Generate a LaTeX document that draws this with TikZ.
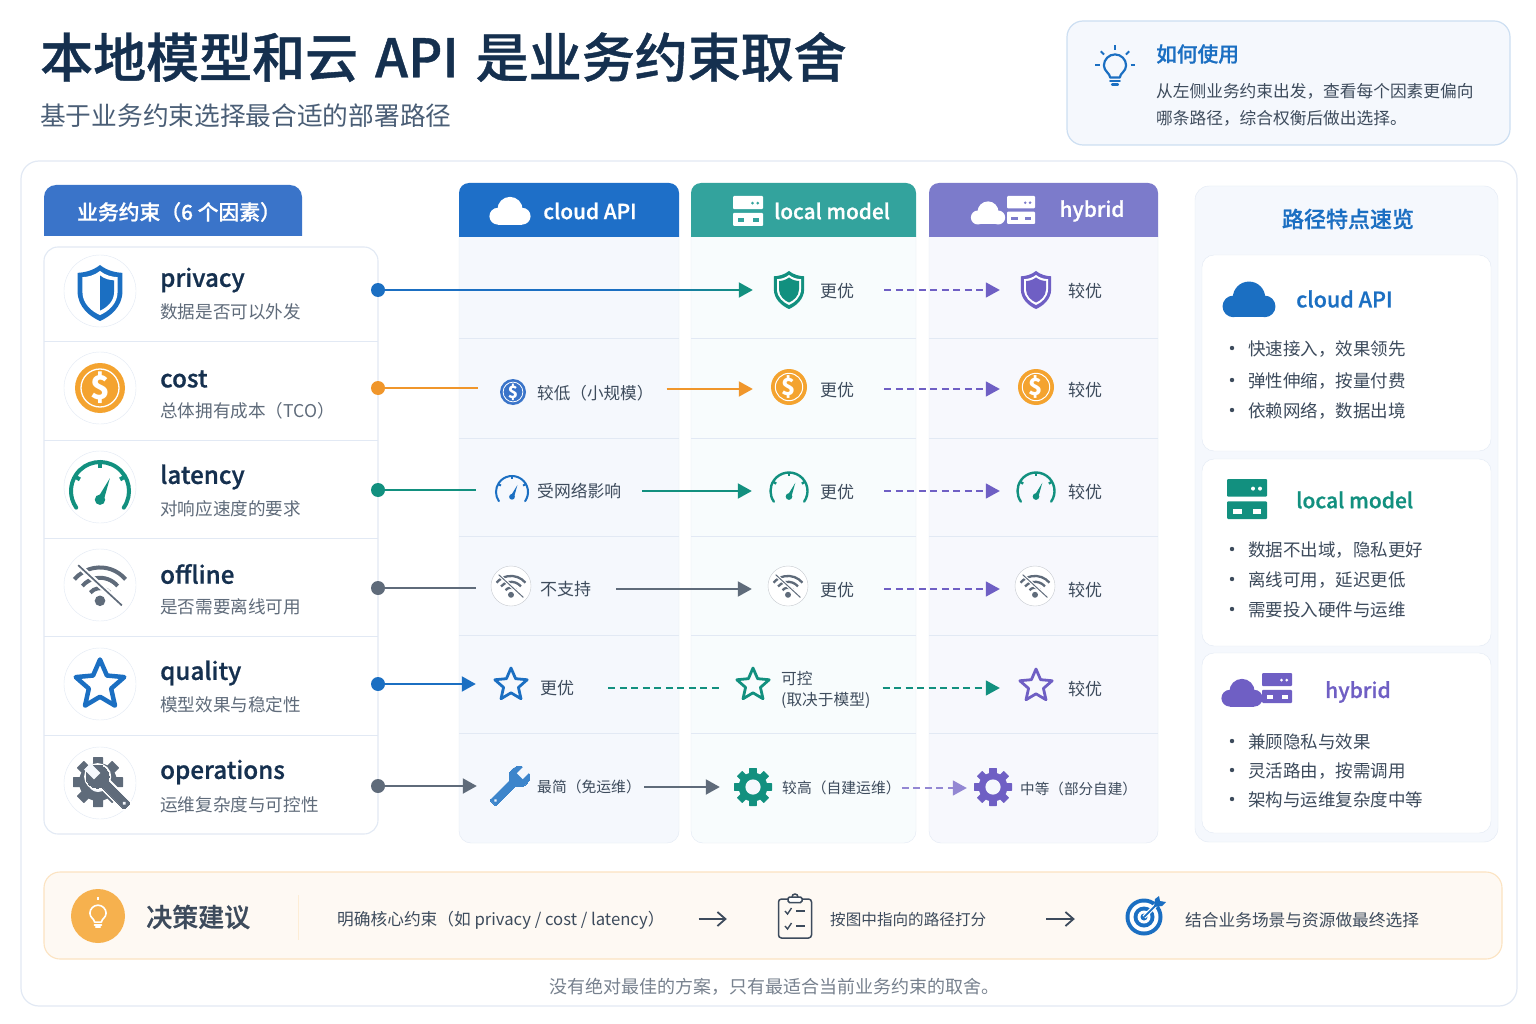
\documentclass[tikz,border=0pt]{standalone}
\usepackage{fontspec}
\setmainfont{Noto Sans CJK SC}
\newfontfamily\medfont{Noto Sans CJK SC Medium}[FakeBold=0.8]
\usetikzlibrary{arrows.meta,positioning,calc}
\definecolor{umink}{HTML}{15304F}
\definecolor{umsub}{HTML}{4A5E76}
\definecolor{umtext}{HTML}{3D4B5C}
\definecolor{umgray}{HTML}{5F6B7A}
\definecolor{umblue}{HTML}{1B6FC2}
\definecolor{umteal}{HTML}{12907F}
\definecolor{umpurple}{HTML}{6F5FC4}
\definecolor{umorange}{HTML}{F0962B}
\definecolor{umcoin}{HTML}{F4A32F}
\definecolor{headleft}{HTML}{3A74C9}
\definecolor{headcloud}{HTML}{1E6FC8}
\definecolor{headlocal}{HTML}{33A39D}
\definecolor{headhybrid}{HTML}{7C7BCB}
\definecolor{colcloud}{HTML}{F5F8FD}
\definecolor{collocal}{HTML}{F8FCFD}
\definecolor{colhybrid}{HTML}{F7F8FD}
\definecolor{umline}{HTML}{E2E9F4}
\newcommand{\fsz}[1]{\fontsize{#1}{#1}\selectfont}

\tikzset{
  factorname/.style={anchor=west,inner sep=0pt,yshift=-2pt,font=\medfont\fsz{24.2},text=umink},
  factorsub/.style={anchor=west,inner sep=0pt,yshift=-1pt,font=\fsz{17.6},text=umgray},
  celltext/.style={anchor=west,inner sep=0pt,yshift=-1pt,font=\fsz{17},text=umtext},
  bullettext/.style={anchor=west,inner sep=0pt,yshift=-1pt,font=\fsz{17.5},text=umtext},
  headtext/.style={inner sep=0pt,font=\medfont\fsz{20.8},text=white},
  steptext/.style={anchor=west,inner sep=0pt,yshift=-1pt,font=\fsz{16.7},text=umtext},
  iconslot/.style={circle,inner sep=0pt,minimum size=36pt},
  iconring/.style={circle,draw=umline,fill=white,inner sep=0pt,minimum size=72pt},
  dotmark/.style={circle,inner sep=0pt,minimum size=14pt},
  link/.style={line width=2pt},
  arrowlink/.style={line width=2pt,-{Triangle[length=14pt,width=15pt]}},
  dashlink/.style={line width=1.7pt,dash pattern=on 7pt off 4.5pt,-{Triangle[length=14pt,width=15pt]}},
  % icons, local y axis points up
  shieldpath/.pic={\tikzset{y=1pt}
    \fill[#1] (0,10) .. controls (2.5,8) and (5.5,7.3) .. (8,7.2) -- (8,0.5) .. controls (8,-5) and (3.5,-8.5) .. (0,-10) .. controls (-3.5,-8.5) and (-8,-5) .. (-8,0.5) -- (-8,7.2) .. controls (-5.5,7.3) and (-2.5,8) .. (0,10) -- cycle;
  },
  coinicon/.pic={\tikzset{y=1pt}
    \fill[#1] (0,0) circle (10);
    \draw[white] (0,0) circle (7.6);
    \node[transform shape,inner sep=0pt,font=\bfseries\fsz{13},text=white] (-sign) at (0,0) {\$};
  },
  gaugeicon/.pic={\tikzset{y=1pt}
    \draw[#1,line cap=round] (-35:10) arc (-35:215:10);
    \foreach \a in {30,90,150} \draw[#1] (\a:10) -- (\a:8);
    \fill[#1] (-1.5,-3.6) -- (3.4,4.4) -- (1.5,-2.4) -- cycle;
    \fill[#1] (0,-3) circle (1.8);
  },
  wifiicon/.pic={\tikzset{y=1pt}
    \foreach \r in {5.5,10,14.5} \draw[#1] ($(0,-6)+(40:\r)$) arc (40:140:\r);
    \fill[#1] (0,-6) circle (2.3);
    \draw[white,line width=1.2\pgflinewidth] (-9.5,9.5) -- (9.5,-8);
    \draw[#1,line width=0.65\pgflinewidth] (-9.5,9.5) -- (9.5,-8);
  },
  staricon/.pic={\tikzset{y=1pt}
    \draw[#1,line join=round] (90:10) -- (126:4.6) -- (162:10) -- (198:4.6) -- (234:10) -- (270:4.6) -- (306:10) -- (342:4.6) -- (18:10) -- (54:4.6) -- cycle;
  },
  gearicon/.pic={\tikzset{y=1pt}
    \fill[#1] (0,0) circle (7.6);
    \foreach \a in {0,45,...,315} \fill[#1,rotate=\a,rounded corners=0.5pt] (-2,6.5) rectangle (2,10);
    \fill[colcloud] (0,0) circle (4);
  },
  wrenchicon/.pic={\tikzset{y=1pt}
    \begin{scope}[rotate=-45]
    \filldraw[#1,rounded corners=1.5pt] (-1.9,-12) rectangle (1.9,4);
    \filldraw[#1] (0,5.5) circle (4.8);
    \fill[colcloud] (-1.9,5.8) rectangle (1.9,11.5);
    \fill[colcloud] (0,-10.2) circle (0.8);
    \end{scope}
  },
  cloudicon/.pic={\tikzset{y=1pt}
    \fill[#1] (-5.8,-2) circle (4);
    \fill[#1] (0,1.2) circle (6);
    \fill[#1] (5.8,-2) circle (4);
    \fill[#1] (-5.8,-6) rectangle (5.8,-1);
  },
  pics/servericon/.style 2 args={code={\tikzset{y=1pt}
    \fill[#1,rounded corners=1pt] (-10,1.2) rectangle (10,10);
    \fill[#1,rounded corners=1pt] (-10,-10) rectangle (10,-1.2);
    \fill[#2] (3,5.2) circle (1);
    \fill[#2] (6.5,5.2) circle (1);
    \fill[#2] (-7,-7.5) rectangle (-2.5,-4.8);
    \fill[#2] (3,-7.5) rectangle (7,-4.8);
  }},
  bulbicon/.pic={\tikzset{y=1pt}
    \draw[#1,line join=round] (-2.6,-3) .. controls (-2.6,-0.8) and (-6,0.4) .. (-6,3.5) arc (180:0:6) .. controls (6,0.4) and (2.6,-0.8) .. (2.6,-3) -- cycle;
    \draw[#1,line cap=round] (-2.6,-5) -- (2.6,-5);
    \draw[#1,line cap=round] (-1.6,-6.8) -- (1.6,-6.8);
  },
  targeticon/.pic={\tikzset{y=1pt}
    \fill[#1] (0,0) circle (18.5);
    \fill[white] (0,0) circle (14.5);
    \fill[#1] (0,0) circle (10.5);
    \fill[white] (0,0) circle (6.5);
    \fill[#1] (0,0) circle (3.5);
    \draw[white,line width=4pt] (0,0) -- (13,13);
    \draw[#1,line width=1.8pt] (0,0) -- (13,13);
    \fill[#1] (10,10) -- (11,18) -- (15,21) -- (16,16) -- (22,15) -- (18,11) -- cycle;
  },
  clipicon/.pic={\tikzset{y=1pt}
    \draw[#1,line width=1.5pt,rounded corners=3pt] (-16.5,-21) rectangle (16.5,18);
    \filldraw[fill=white,draw=#1,line width=1.5pt,rounded corners=1.5pt] (-7,14.5) rectangle (7,20);
    \draw[#1,line width=1.5pt] (-3,20) arc (180:0:3);
    \foreach \y in {6,-9} {
      \draw[#1,line width=1.4pt] (-10,\y) -- (-7.5,\y-3) -- (-3.5,\y+3);
      \draw[#1,line width=1.4pt] (1,\y) -- (10,\y);
    }
  },
}

\begin{document}
\begin{tikzpicture}[x=1pt,y=-1pt]
\useasboundingbox (0,0) rectangle (1536,1024);
\fill[white] (0,0) rectangle (1536,1024);

% Title block
\node[anchor=west,inner sep=0pt,font=\medfont\fsz{53},text=umink] (title) at (40,57) {本地模型和云\hspace{5pt} API\hspace{5pt} 是业务约束取舍};
\node[anchor=west,inner sep=0pt,font=\fsz{25.7},text=umsub] (subtitle) at (40,116) {基于业务约束选择最合适的部署路径};

% How to use
\draw[fill=colcloud,draw=umblue!22,line width=1.2pt,rounded corners=16pt] (1067,21) rectangle (1510,145);
\pic[scale=1.85,line width=2.2pt] at (1115,72) {bulbicon=umblue};
\foreach \a in {0,45,90,135,180} \draw[umblue,line width=2pt] ($(1115,65.5)+(\a:15.5 and -15.5)$) -- ($(1115,65.5)+(\a:20 and -20)$);
\node[anchor=west,inner sep=0pt,font=\medfont\fsz{20.7},text=umblue] (howto) at (1156,54) {如何使用};
\node[anchor=west,inner sep=0pt,font=\fsz{16.7},text=umtext] (howtoa) at (1156,91) {从左侧业务约束出发，查看每个因素更偏向};
\node[anchor=west,inner sep=0pt,font=\fsz{16.7},text=umtext] (howtob) at (1156,118) {哪条路径，综合权衡后做出选择。};

% Outer panel
\draw[fill=white,draw=umline,line width=1.2pt,rounded corners=18pt] (21,161) rectangle (1517,1006);

% Factor column
\fill[headleft,rounded corners=12pt] (44,236) -- (44,185) -- (302,185) -- (302,236);
\node[inner sep=0pt,font=\medfont\fsz{20.8},text=white] (factorhead) at (179,212) {业务约束（6 个因素）};
\draw[fill=white,draw=umline,line width=1.1pt,rounded corners=14pt] (44,247) rectangle (378,834);
\foreach \y in {341,440,538,636,735} \draw[umline] (44,\y) -- (378,\y);
\foreach \k/\ya/\yb/\yc/\t in {privacy/291/278/311/数据是否可以外发, cost/388/377/410/总体拥有成本（TCO）, latency/487/475/508/对响应速度的要求, offline/585/572/606/是否需要离线可用, quality/684/671/704/模型效果与稳定性, operations/783/770/804/运维复杂度与可控性} {
  \node[iconring] (ring\k) at (100,\ya) {};
  \node[factorname] (name\k) at (160,\yb) {\k};
  \node[factorsub] (sub\k) at (160,\yc) {\t};
}
\pic[scale=2.8] at (100,293) {shieldpath=umblue};
\pic[scale=2.2] at (100,293) {shieldpath=white};
\begin{scope}
  \clip (100,250) rectangle (125,330);
  \pic[scale=1.75] at (100,293) {shieldpath=umblue};
\end{scope}
\pic[scale=2.5,line width=1.3pt] (coinleft) at (100,388) {coinicon=umcoin};
\pic[scale=2.9,line width=4pt] at (100,491) {gaugeicon=umteal};
\pic[scale=2.3,line width=4pt] at (100,587) {wifiicon=umgray};
\pic[scale=2.55,line width=4.5pt] at (100,685) {staricon=umblue};
\pic[scale=2.5] at (98,782) {gearicon=umgray};
\pic[scale=2.4,rotate=90,line width=4pt] at (107,786) {wrenchicon=white};
\pic[scale=2.4,rotate=90,line width=0pt] at (107,786) {wrenchicon=umgray};

% Route columns
\foreach \k/\xa/\xb/\cb/\ch in {cloud/459/679/colcloud/headcloud, local/691/916/collocal/headlocal, hybrid/929/1158/colhybrid/headhybrid} {
  \draw[fill=\cb,draw=umline,rounded corners=12pt] (\xa,237) -- (\xa,843) -- (\xb,843) -- (\xb,237);
  \fill[\ch,rounded corners=10pt] (\xa,237) -- (\xa,183) -- (\xb,183) -- (\xb,237);
  \foreach \y in {338,438,536,635,733} \draw[umline] (\xa,\y) -- (\xb,\y);
}
\pic[scale=2.1] at (510,212) {cloudicon=white};
\node[headtext] (headcloudtxt) at (590,211) {cloud API};
\pic[scale=1.5] at (748,211) {servericon={white}{headlocal}};
\node[headtext] (headlocaltxt) at (832,211) {local model};
\pic[scale=1.75] at (988,214) {cloudicon=white};
\pic[scale=1.4] at (1021,210) {servericon={white}{headhybrid}};
\node[headtext] (headhybridtxt) at (1092,211) {hybrid};

% Cells, cloud column
\node[celltext,font=\fsz{16.6}] (txtcloudcost) at (537,392) {较低（小规模）};
\node[celltext,font=\fsz{16.8}] (txtcloudlatency) at (537,490) {受网络影响};
\node[celltext] (txtcloudoffline) at (540,588) {不支持};
\node[celltext] (txtcloudquality) at (540,687) {更优};
\node[celltext,font=\fsz{14.8}] (txtcloudoperations) at (537,786) {最简（免运维）};
\foreach \k/\y in {cost/392,latency/490,offline/588,quality/684,operations/786} \node[iconslot] (iconcloud\k) at (511,\y) {};

% Cells, local column
\foreach \k/\y in {privacy/290,cost/389,latency/491,offline/589} {
  \node[iconslot] (iconlocal\k) at (789,\y) {};
  \node[celltext] (txtlocal\k) at (820,\y) {更优};
}
\node[iconslot] (iconlocalquality) at (753,688) {};
\node[celltext,font=\fontsize{15.7}{21}\selectfont,align=left] (txtlocalquality) at (781,689) {可控\\(取决于模型)};
\node[iconslot] (iconlocaloperations) at (753,787) {};
\node[celltext,font=\fsz{14.8}] (txtlocaloperations) at (782,787) {较高（自建运维）};

% Cells, hybrid column
\foreach \k/\y in {privacy/290,cost/389,latency/491,offline/589,quality/688} {
  \node[iconslot] (iconhybrid\k) at (1036,\y) {};
  \node[celltext] (txthybrid\k) at (1068,\y) {较优};
}
\node[iconslot] (iconhybridoperations) at (993,788) {};
\node[celltext,font=\fsz{14.6}] (txthybridoperations) at (1020,788) {中等（部分自建）};

% Icons in the cells
\pic[scale=1.9] at (789,290) {shieldpath=umteal};
\pic[scale=1.5] at (789,290) {shieldpath=white};
\pic[scale=1.25] at (789,290) {shieldpath=umteal};
\pic[scale=1.9] at (1036,290) {shieldpath=umpurple};
\pic[scale=1.5] at (1036,290) {shieldpath=white};
\pic[scale=1.25] at (1036,290) {shieldpath=umpurple};
\pic[scale=1.3,line width=0.8pt] (coincloud) at (513,392) {coinicon=headleft};
\pic[scale=1.8,line width=1pt] (coinlocal) at (789,387) {coinicon=umcoin};
\pic[scale=1.8,line width=1pt] (coinhybrid) at (1036,387) {coinicon=umcoin};
\pic[scale=1.6,line width=2pt] at (512,492) {gaugeicon=umblue};
\pic[scale=1.85,line width=2.4pt] at (789,491) {gaugeicon=umteal};
\pic[scale=1.85,line width=2.4pt] at (1036,491) {gaugeicon=umteal};
\foreach \x in {511,788,1035} {
  \draw[fill=white,draw=umgray!35] (\x,586) circle (20);
  \pic[scale=1.3,line width=2.3pt] at (\x,587) {wifiicon=umgray};
}
\pic[scale=1.7,line width=2.8pt] at (511,685) {staricon=umblue};
\pic[scale=1.7,line width=2.8pt] at (753,685) {staricon=umteal};
\pic[scale=1.7,line width=2.8pt] at (1036,686) {staricon=umpurple};
\pic[scale=2.15,line width=0pt] at (511,785) {wrenchicon=umblue!85};
\pic[scale=1.9] at (753,787) {gearicon=umteal};
\pic[scale=1.9] at (993,787) {gearicon=umpurple};

% Connectors
\foreach \k/\y/\c in {privacy/290/umblue, cost/388/umorange, latency/490/umteal, offline/588/umgray, quality/684/umblue, operations/786/umgray} {
  \node[dotmark,fill=\c] (dot\k) at (378,\y) {};
}
\coordinate (stubcost) at (478,388);
\coordinate (stublatency) at (476,490);
\coordinate (stuboffline) at (476,588);
\draw[link,umorange] (dotcost) -- (stubcost);
\draw[link,umteal] (dotlatency) -- (stublatency);
\draw[link,umgray] (dotoffline) -- (stuboffline);
\draw[arrowlink,umblue] (dotquality) -- ([xshift=-17pt]iconcloudquality.west);
\draw[arrowlink,umgray] (dotoperations) -- ([xshift=-16pt]iconcloudoperations.west);

\draw[arrowlink,umblue,-{Triangle[length=14pt,width=15pt,color=umteal]}] (dotprivacy) -- ([xshift=-18pt]iconlocalprivacy.west);
\shade[left color=umblue,right color=umteal] (640,289.1) rectangle (741,290.9);
\draw[arrowlink,umorange] ([xshift=13pt]txtcloudcost.east |- iconlocalcost) -- ([xshift=-18pt]iconlocalcost.west);
\draw[arrowlink,umteal] ([xshift=21pt]txtcloudlatency.east |- iconlocallatency) -- ([xshift=-19pt]iconlocallatency.west);
\draw[arrowlink,umgray] ([xshift=25pt]txtcloudoffline.east |- iconlocaloffline) -- ([xshift=-19pt]iconlocaloffline.west);
\draw[link,umteal,dash pattern=on 7pt off 4.5pt,line width=1.7pt] ([xshift=34pt]txtcloudquality.east |- iconlocalquality) -- ([xshift=-15pt]iconlocalquality.west);
\draw[arrowlink,umgray] ([xshift=3pt]txtcloudoperations.east |- iconlocaloperations) -- ([xshift=-15pt]iconlocaloperations.west);

\foreach \k in {privacy,cost,latency,offline} {
  \draw[dashlink,umpurple] ([xshift=30pt]txtlocal\k.east |- iconhybrid\k) -- ([xshift=-18pt]iconhybrid\k.west);
}
\draw[dashlink,umteal] ([xshift=12pt]txtlocalquality.east |- iconhybridquality) -- ([xshift=-18pt]iconhybridquality.west);
\draw[dashlink,umpurple!75] ([xshift=1pt]txtlocaloperations.east |- iconhybridoperations) -- ([xshift=-8pt]iconhybridoperations.west);

% Route overview
\draw[fill=colcloud,draw=umline,rounded corners=14pt] (1195,186) rectangle (1498,842);
\node[inner sep=0pt,font=\medfont\fsz{22},text=umblue] (overview) at (1348,219) {路径特点速览};
\foreach \ya/\yb in {255/451,459/646,653/833} \draw[fill=white,draw=umline,rounded corners=12pt] (1202,\ya) rectangle (1491,\yb);
\pic[scale=2.7] at (1249,301) {cloudicon=umblue};
\node[anchor=west,inner sep=0pt,font=\medfont\fsz{21.5},text=umblue] (ovcloud) at (1296,299) {cloud API};
\pic[scale=2] at (1247,499) {servericon={umteal}{white}};
\node[anchor=west,inner sep=0pt,font=\medfont\fsz{21},text=umteal] (ovlocal) at (1296,500) {local model};
\pic[scale=2.1] at (1242,694) {cloudicon=umpurple};
\pic[scale=1.5] at (1277,688) {servericon={umpurple}{white}};
\node[anchor=west,inner sep=0pt,font=\medfont\fsz{21},text=umpurple] (ovhybrid) at (1325,692) {hybrid};
\foreach \y/\t in {348/快速接入，效果领先, 380/弹性伸缩，按量付费, 410/依赖网络，数据出境, 549/数据不出域，隐私更好, 579/离线可用，延迟更低, 609/需要投入硬件与运维, 741/兼顾隐私与效果, 770/灵活路由，按需调用, 799/架构与运维复杂度中等} {
  \fill[umtext] (1232,\y) circle (2.2);
  \node[bullettext] (point\y) at (1248,\y) {\t};
}

% Decision bar
\draw[fill=umcoin!6,draw=umcoin!30,line width=1.1pt,rounded corners=16pt] (44,872) rectangle (1502,959);
\node[circle,fill=umcoin!85,inner sep=0pt,minimum size=54pt] (decisionbadge) at (98,916) {};
\pic[scale=1.35,line width=1.6pt] at (98,918) {bulbicon=white};
\draw[white,line width=1.6pt] (98,897) -- (98,900);
\node[anchor=west,inner sep=0pt,font=\medfont\fsz{26},text=umtext] (decision) at (146,917) {决策建议};
\draw[umcoin!20] (298,895) -- (298,940);
\node[steptext] (stepone) at (337,919) {明确核心约束（如 privacy / cost / latency）};
\node[iconslot,minimum size=34pt] (stepclip) at (795,919) {};
\pic at (795,917) {clipicon=umtext};
\node[steptext,font=\fsz{15.6}] (steptwo) at (830,919) {按图中指向的路径打分};
\node[iconslot,minimum size=38pt] (steptarget) at (1144,919) {};
\pic at (1144,917) {targeticon=umblue};
\node[steptext] (stepthree) at (1185,919) {结合业务场景与资源做最终选择};
\draw[line width=1.8pt,umtext,-{Straight Barb[length=8pt,width=14pt]}] ([xshift=34pt]stepone.east |- stepclip) -- ([xshift=-51pt]stepclip.west);
\draw[line width=1.8pt,umtext,-{Straight Barb[length=8pt,width=14pt]}] ([xshift=60pt]steptwo.east |- steptarget) -- ([xshift=-50pt]steptarget.west);

\node[inner sep=0pt,font=\fsz{18},text=umgray!85] (closing) at (774,987) {没有绝对最佳的方案，只有最适合当前业务约束的取舍。};
\end{tikzpicture}
\end{document}
